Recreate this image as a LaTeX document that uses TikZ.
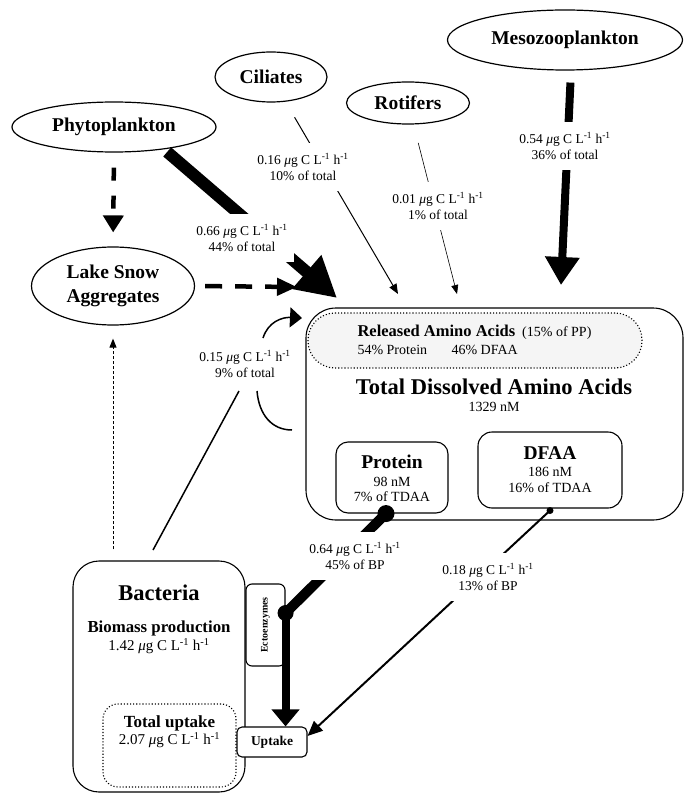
\documentclass[tikz,border=0pt]{standalone}
\usepackage{fontspec}
\setmainfont{Liberation Serif}
\usetikzlibrary{shapes.geometric,arrows.meta}
\newcommand{\fsz}[2]{\fontsize{#1}{#2}\selectfont}
\newcommand{\cflux}[1]{#1 {\itshape μ}g C L\textsuperscript{-1} h\textsuperscript{-1}}

\begin{document}
\begin{tikzpicture}[x=1pt,y=-1pt,
  organism/.style={ellipse,draw,line width=1.2pt,inner sep=0pt,align=center,font=\bfseries\fsz{19.5}{24}},
  pool/.style={draw,line width=1.1pt,rounded corners=#1,inner sep=0pt},
  pool/.default=12pt,
  ratelabel/.style={fill=white,align=center,font=\fsz{13.5}{16.5},inner xsep=6pt,inner ysep=10pt},
  small/.style={font=\fsz{14}{15.5},align=center}]
  \useasboundingbox (0,0) rectangle (684,794);

  % Sources
  \node[organism,minimum width=204pt,minimum height=50pt] (phyto) at (114,127) {Phytoplankton};
  \node[organism,minimum width=112pt,minimum height=50pt] (cil) at (271,77) {Ciliates};
  \node[organism,minimum width=123pt,minimum height=42pt] (rot) at (408,103) {Rotifers};
  \node[organism,minimum width=235pt,minimum height=60pt] (meso) at (565,40) {Mesozooplankton};
  \node[organism,minimum width=163pt,minimum height=78pt] (snow) at (113,286) {Lake Snow\\Aggregates};

  % Dissolved pool
  \node[pool=30pt,minimum width=377pt,minimum height=212pt] (tdaa) at (494.5,414) {};
  \node[pool=27pt,dotted,fill=black!4,minimum width=334pt,minimum height=55pt] (rel) at (475,340.5) {};
  \node[anchor=west,font=\fsz{14}{16}] (relT) at (354,332) {{\bfseries\fsz{16.5}{18}Released Amino Acids}\ \ (15\% of PP)};
  \node[anchor=west,small] (relP) at (354,350) {54\% Protein};
  \node[anchor=west,small] (relD) at (448,350) {46\% DFAA};
  \node[font=\bfseries\fsz{22.5}{26}] (tdaaT) at (494,387) {Total Dissolved Amino Acids};
  \node[small] (tdaaC) at (494,407) {1329 nM};

  \node[pool=12pt,minimum width=112pt,minimum height=71pt] (prot) at (392,477.5) {};
  \node[font=\bfseries\fsz{19.5}{22}] (protT) at (392,462) {Protein};
  \node[small] (protC) at (392,489.5) {98 nM\\7\% of TDAA};

  \node[pool=14pt,minimum width=144pt,minimum height=76pt] (dfaa) at (550,470) {};
  \node[font=\bfseries\fsz{19.5}{22}] (dfaaT) at (550,453) {DFAA};
  \node[small,font=\fsz{14}{16}] (dfaaC) at (550,480) {186 nM\\16\% of TDAA};

  % Bacteria
  \node[pool=26pt,minimum width=172pt,minimum height=231pt] (bact) at (159,676.5) {};
  \node[font=\bfseries\fsz{22.5}{26}] (bactT) at (159,593) {Bacteria};
  \node[font=\bfseries\fsz{16.8}{19}] (bioT) at (159,628) {Biomass production};
  \node[font=\fsz{15}{17}] (bioC) at (159,646) {\cflux{1.42}};
  \node[pool=15pt,dotted,minimum width=133pt,minimum height=83pt] (tup) at (169.5,745.5) {};
  \node[font=\bfseries\fsz{17}{19}] (tupT) at (169.5,723) {Total uptake};
  \node[font=\fsz{15}{17}] (tupC) at (169.5,740) {\cflux{2.07}};
  \node[pool=6pt,fill=white,minimum width=39pt,minimum height=82pt] (ecto) at (265.5,625) {};
  \node[rotate=90,font=\bfseries\fsz{10}{12}] (ectoT) at (ecto) {Ectoenzymes};
  \node[pool=5pt,fill=white,minimum width=70pt,minimum height=30pt,font=\bfseries\fsz{13.5}{15}] (upt) at (272,742) {Uptake};

  % Arrow ends
  \coordinate (phytoTip) at (337,298);
  \coordinate (cilTip) at (398,294);
  \coordinate (rotTip) at (457,294);
  \coordinate (mesoTip) at (561,285);
  \coordinate (snowTip) at (297,287);
  \coordinate (loopTip) at (302,318);
  \coordinate (loopEnd) at (292,430);
  \coordinate (bactOut) at (153,550);
  \coordinate (protOut) at ([xshift=-6pt]prot.south);
  \coordinate (ectoIn) at ([yshift=12pt]ecto.east);
  \coordinate (dfaaOut) at ([yshift=-2pt]dfaa.south);

  % Release fluxes
  \draw[line width=12pt,-{Triangle[length=40pt,width=42pt]},shorten <=4pt] (phyto.-24) -- (phytoTip);
  \draw[line width=1pt,-{Triangle[length=10pt,width=8pt]},shorten <=18pt] (cil) -- (cilTip);
  \draw[line width=0.6pt,-{Triangle[length=9pt,width=7pt]},shorten <=19pt] (rot) -- (rotTip);
  \draw[line width=8pt,-{Triangle[length=28pt,width=33pt]},shorten <=12pt] ([xshift=6pt]meso.south) -- (mesoTip);
  \draw[line width=4.5pt,dash pattern=on 13pt off 15pt,-{Triangle[length=17pt,width=20pt]},shorten <=15pt,shorten >=14pt] (phyto.south) -- (snow.north);
  \draw[line width=4.5pt,dash pattern=on 17pt off 13pt,-{Triangle[length=20pt,width=17pt]},shorten <=10pt] (snow.east) -- (snowTip);
  \draw[line width=1pt,dash pattern=on 3pt off 2pt,-{Triangle[length=9pt,width=7pt]},shorten <=11pt,shorten >=13pt] (bact.north -| snow) -- (snow.south);

  % Bacterial loop
  \draw[line width=1.5pt,-{Triangle[length=12pt,width=20pt]}] (263,338) .. controls (268,322) and (282,317) .. (loopTip);
  \draw[line width=1.5pt] (257,391) .. controls (259,415) and (272,430) .. (loopEnd);
  \draw[line width=1.5pt] (bactOut) -- (239,391);

  % Uptake fluxes
  \draw[line width=10pt] (protOut) -- (ectoIn);
  \draw[line width=8pt,-{Triangle[length=17pt,width=27pt]}] (ectoIn) -- (ectoIn |- upt.north);
  \fill (protOut) circle (8.5pt);
  \fill (ectoIn) circle (8pt);
  \draw[line width=2pt,-{Triangle[length=15pt,width=13pt]}] (dfaaOut) -- ([yshift=6pt]upt.east);
  \fill (dfaaOut) circle (3.5pt);

  % Flux labels
  \node[ratelabel] (lPhyto) at (242,238) {\cflux{0.66}\\44\% of total};
  \node[ratelabel] (lCil) at (303,167) {\cflux{0.16}\\10\% of total};
  \node[ratelabel] (lRot) at (438,206) {\cflux{0.01}\\1\% of total};
  \node[ratelabel] (lMeso) at (565,146) {\cflux{0.54}\\36\% of total};
  \node[ratelabel] (lRec) at (245,364) {\cflux{0.15}\\9\% of total};
  \node[ratelabel] (lProt) at (355,556) {\cflux{0.64}\\45\% of BP};
  \node[ratelabel] (lDfaa) at (488,577) {\cflux{0.18}\\13\% of BP};
\end{tikzpicture}
\end{document}
